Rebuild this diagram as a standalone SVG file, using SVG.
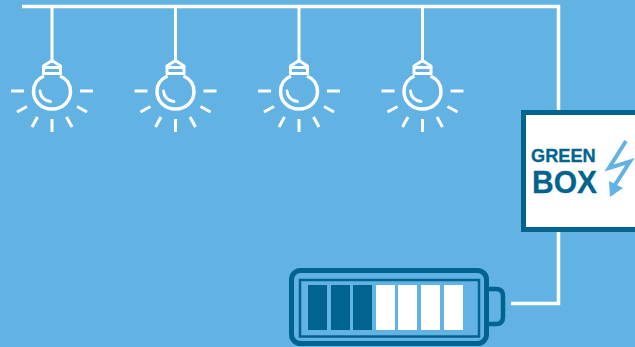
<svg xmlns="http://www.w3.org/2000/svg" width="635" height="347" viewBox="0 0 635 347">
<style>
.w{fill:none;stroke:#fff;stroke-width:3.500;stroke-linecap:butt}
.r{stroke-linecap:round}
.d{fill:none;stroke:#00648f}
.t{font-family:"Liberation Sans",Arial,sans-serif;font-weight:700;fill:#00648f;stroke:#00648f;stroke-width:.3}
</style>
<defs>
<g id="bulb">
<path class="w" style="stroke-width:3" d="M52 7V61"/>
<path class="w" style="stroke-width:3" stroke-linejoin="round" d="M43.500 66L52 60.500L60.500 66V73.500H43.500ZM43.500 67.500H60.500"/>
<path class="w" d="M44 76C37 79 33.500 85 33.500 91.500C33.500 101.500 41.500 109 52 109C62.500 109 70.500 101.500 70.500 91.500C70.500 85 67 79 60 76"/>
<path class="w r" style="stroke-width:2.800" d="M40 91C40.500 96.500 44 100.500 50.500 101.500"/>
<path class="w" style="stroke-width:3" d="M11 91H24M80 91H93M17 112L27 106.500M87 112L77 106.500M32 127L37.500 117M72 127L66.500 117M52 119V132"/>
</g>
</defs>
<rect width="635" height="347" fill="#63b2e4"/>
<g id="connectors">
<path class="w" d="M22 6.500H558.500V110M558.500 231V303.500H511"/>
</g>
<use id="bulb-1" href="#bulb"/>
<use id="bulb-2" href="#bulb" x="123.500"/>
<use id="bulb-3" href="#bulb" x="247"/>
<use id="bulb-4" href="#bulb" x="370.500"/>
<g id="green-box">
<rect x="523.500" y="112.500" width="120" height="117" fill="#fff" stroke="#00648f" stroke-width="5"/>
<text class="t" x="531" y="162" font-size="18.200">GREEN</text>
<text class="t" x="532" y="193" font-size="31" textLength="65" lengthAdjust="spacingAndGlyphs">BOX</text>
<path fill="none" stroke="#63b2e4" stroke-width="4" stroke-miterlimit="3" d="M626 141L609 168L630 161.500L613 188"/>
<path fill="#63b2e4" d="M609 181L610 197L623 188Z"/>
</g>
<g id="battery">
<path class="d" stroke-width="4.500" d="M489 289H496Q503 289 503 296V317Q503 324 496 324H489"/>
<rect class="d" x="291.500" y="270.500" width="195" height="73" rx="9" stroke-width="5"/>
<rect class="d" x="300" y="280" width="179" height="56.500" stroke-width="2.500"/>
<g fill="#00648f">
<rect x="308" y="285" width="19" height="45"/>
<rect x="331" y="285" width="19" height="45"/>
<rect x="353" y="285" width="19" height="45"/>
</g>
<g fill="#fff">
<rect x="376" y="285" width="19" height="45"/>
<rect x="398" y="285" width="19" height="45"/>
<rect x="421" y="285" width="19" height="45"/>
<rect x="444" y="285" width="19" height="45"/>
</g>
</g>
</svg>
